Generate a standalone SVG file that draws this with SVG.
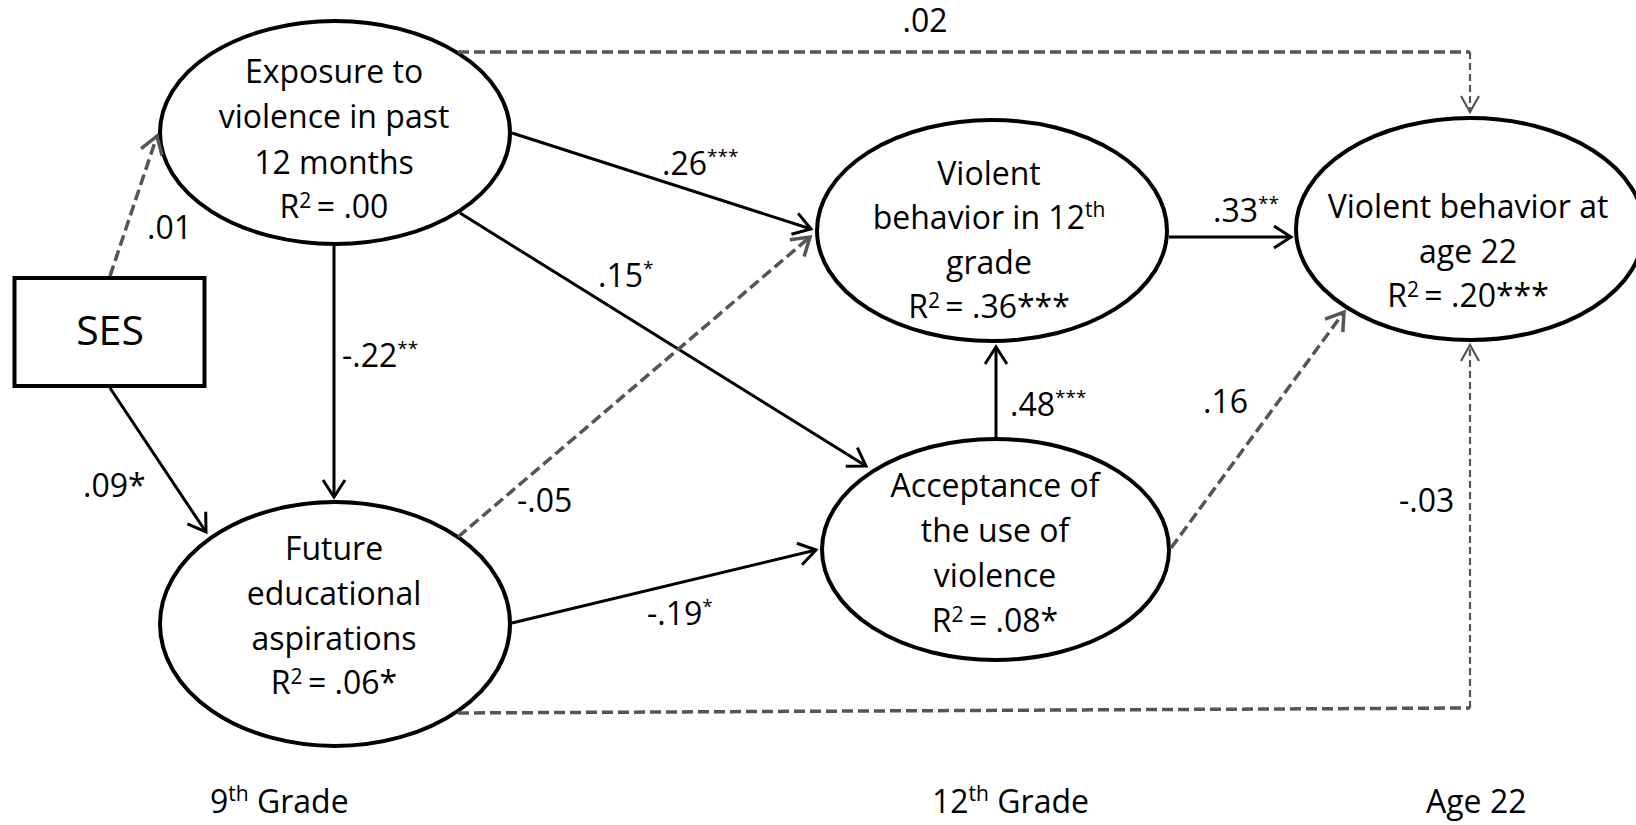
<svg xmlns="http://www.w3.org/2000/svg" width="1636" height="825" viewBox="0 0 1636 825">
<defs>
<style>
text { font-family: "Open Sans", "Liberation Sans", sans-serif; font-size: 32px; fill: #000; }
.c { text-anchor: middle; }
.n { fill: #fff; stroke: #000; stroke-width: 4; }
.s { fill: none; stroke: #000; stroke-width: 3; marker-end: url(#ab); }
.d { fill: none; stroke: #555; stroke-width: 3.5; stroke-dasharray: 11 5; }
.da { marker-end: url(#ag); }
.dt { fill: none; stroke: #555; stroke-width: 2.2; stroke-dasharray: 7 4; marker-end: url(#at); }
.sup { font-size: 19px; }
.sup2 { font-size: 21px; }
</style>
<marker id="ab" markerUnits="userSpaceOnUse" viewBox="-22 -15 26 30" refX="0" refY="0" markerWidth="26" markerHeight="30" orient="auto">
<path d="M-17,-11 L0,0 L-17,11" fill="none" stroke="#000" stroke-width="3"/>
</marker>
<marker id="ag" markerUnits="userSpaceOnUse" viewBox="-22 -15 26 30" refX="0" refY="0" markerWidth="26" markerHeight="30" orient="auto">
<path d="M-17,-11 L0,0 L-17,11" fill="none" stroke="#555" stroke-width="3.5"/>
</marker>
<marker id="at" markerUnits="userSpaceOnUse" viewBox="-22 -15 26 30" refX="0" refY="0" markerWidth="26" markerHeight="30" orient="auto">
<path d="M-16,-9 L0,0 L-16,9" fill="none" stroke="#555" stroke-width="2.2"/>
</marker>
</defs>
<rect width="1636" height="825" fill="#fff"/>

<g id="ses">
<rect class="n" x="14.5" y="278" width="190" height="108"/>
<text class="c" x="110" y="345" style="font-size:41px">SES</text>
</g>

<g id="exposure">
<ellipse class="n" cx="335" cy="132.5" rx="175" ry="111.5"/>
<text class="c" x="334" y="83">Exposure to</text>
<text class="c" x="334" y="128">violence in past</text>
<text class="c" x="334" y="174">12 months</text>
<text class="c" x="334" y="218">R<tspan class="sup2" dy="-10">2 </tspan><tspan dy="10">= .00</tspan></text>
</g>

<g id="aspirations">
<ellipse class="n" cx="335" cy="624" rx="175" ry="122"/>
<text class="c" x="334" y="560">Future</text>
<text class="c" x="334" y="605">educational</text>
<text class="c" x="334" y="650">aspirations</text>
<text class="c" x="334" y="694">R<tspan class="sup2" dy="-10">2 </tspan><tspan dy="10">= .06*</tspan></text>
</g>

<g id="violent12">
<ellipse class="n" cx="992" cy="230.5" rx="175" ry="110.5"/>
<text class="c" x="989" y="185">Violent</text>
<text class="c" x="989" y="229">behavior in 12<tspan class="sup2" dy="-12">th</tspan></text>
<text class="c" x="989" y="274">grade</text>
<text class="c" x="989" y="318">R<tspan class="sup2" dy="-10">2 </tspan><tspan dy="10">= .36***</tspan></text>
</g>

<g id="acceptance">
<ellipse class="n" cx="995.5" cy="549.5" rx="173.5" ry="110.5"/>
<text class="c" x="995" y="497">Acceptance of</text>
<text class="c" x="995" y="542">the use of</text>
<text class="c" x="995" y="587">violence</text>
<text class="c" x="995" y="632">R<tspan class="sup2" dy="-10">2 </tspan><tspan dy="10">= .08*</tspan></text>
</g>

<g id="violent22">
<ellipse class="n" cx="1470" cy="229" rx="174" ry="111"/>
<text class="c" x="1468" y="218">Violent behavior at</text>
<text class="c" x="1468" y="263">age 22</text>
<text class="c" x="1468" y="307">R<tspan class="sup2" dy="-10">2 </tspan><tspan dy="10">= .20***</tspan></text>
</g>

<g id="connectors">
<path class="d da" d="M110,276 L157,136"/>
<path class="s" d="M110,388 L206,532"/>
<path class="s" d="M334,246 L334,497"/>
<path class="s" d="M512,133 L811,229"/>
<path class="s" d="M460,213 L866,466"/>
<path class="d" d="M458,52 L1470,52"/>
<path class="dt" d="M1470,52 L1470,112"/>
<path class="d da" d="M458,537 L810,237"/>
<path class="s" d="M512,623 L816,550"/>
<path class="d" d="M458,713 L1470,708"/>
<path class="dt" d="M1470,708 L1470,345"/>
<path class="s" d="M1169,237 L1291,237"/>
<path class="s" d="M996,439 L996,347"/>
<path class="d da" d="M1171,548 L1344,312"/>
</g>

<g id="edge-labels">
<text class="c" x="925" y="32">.02</text>
<text x="147" y="239">.01</text>
<text x="342" y="367">-.22<tspan class="sup" dy="-12">**</tspan></text>
<text x="83" y="497">.09*</text>
<text x="662" y="175">.26<tspan class="sup" dy="-12">***</tspan></text>
<text x="598" y="287">.15<tspan class="sup" dy="-12">*</tspan></text>
<text x="1213" y="222">.33<tspan class="sup" dy="-12">**</tspan></text>
<text x="1010" y="416">.48<tspan class="sup" dy="-12">***</tspan></text>
<text x="517" y="512">-.05</text>
<text x="647" y="625">-.19<tspan class="sup" dy="-12">*</tspan></text>
<text x="1203" y="413">.16</text>
<text x="1399" y="512">-.03</text>
</g>

<g id="time-labels">
<text x="210" y="813">9<tspan class="sup2" dy="-12">th</tspan><tspan dy="12"> Grade</tspan></text>
<text x="932" y="813">12<tspan class="sup2" dy="-12">th</tspan><tspan dy="12"> Grade</tspan></text>
<text x="1426" y="813">Age 22</text>
</g>
</svg>
